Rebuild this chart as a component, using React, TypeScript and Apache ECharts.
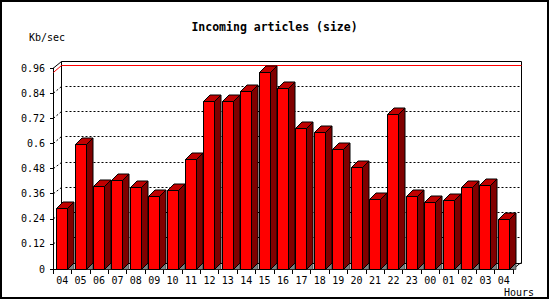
import React, { useEffect, useRef } from "react";
import * as echarts from "echarts";

const hours = ["04","05","06","07","08","09","10","11","12","13","14","15","16","17","18","19","20","21","22","23","00","01","02","03","04"];
const sizes = [0.29,0.595,0.397,0.424,0.391,0.348,0.377,0.523,0.801,0.801,0.849,0.939,0.863,0.672,0.653,0.572,0.486,0.334,0.741,0.348,0.320,0.329,0.391,0.401,0.238];
const yTicks = [0,0.12,0.24,0.36,0.48,0.6,0.72,0.84,0.96];
const titleText = "Incoming articles (size)";
const yUnit = "Kb/sec";
const xUnit = "Hours";

const MONO = "'DejaVu Sans Mono', 'Liberation Mono', monospace";

export default function App() {
  const ref = useRef<HTMLDivElement>(null);
  useEffect(() => {
    if (!ref.current) return;
    const chart = echarts.init(ref.current, null, { renderer: "svg" });
    const maxVal = Math.max(...sizes);
    const dx = 7.5, dy = 7;
    const snap = (v: number) => Math.round(v) + 0.5;
    chart.setOption({
      animation: false,
      backgroundColor: "#fff",
      grid: { left: 53, top: 68, width: 460, height: 201, containLabel: false },
      xAxis: {
        type: "category",
        data: hours,
        boundaryGap: true,
        axisLine: { show: true, lineStyle: { color: "#000", width: 1 } },
        axisTick: { show: true, alignWithLabel: false, length: 5, lineStyle: { color: "#000" } },
        axisLabel: { interval: 0, color: "#000", fontFamily: MONO, fontSize: 10, margin: 6 },
        splitLine: { show: false },
      },
      yAxis: {
        type: "value",
        min: 0,
        max: 0.96,
        interval: 0.12,
        axisLine: { show: true, lineStyle: { color: "#000", width: 1 } },
        axisTick: { show: true, length: 3, lineStyle: { color: "#000" } },
        axisLabel: {
          color: "#000", fontFamily: MONO, fontSize: 10, margin: 8,
          formatter: (v: number) => String(Math.round(v * 100) / 100),
        },
        splitLine: { show: false },
      },
      series: [
        {
          type: "custom",
          z: 1,
          silent: true,
          data: [[0, 0]],
          encode: { x: 0, y: 1 },
          renderItem: (params: any, api: any) => {
            const cs = params.coordSys;
            const L = cs.x, T = cs.y, R = cs.x + cs.width, B = cs.y + cs.height;
            const bx = snap(L + dx), by = snap(T - dy);
            const children: any[] = [
              { type: "rect", shape: { x: bx, y: by, width: Math.round(cs.width), height: Math.round(B - dy + 1) - by + 0.5 }, style: { fill: "#fff", stroke: "#000", lineWidth: 1 } },
              { type: "line", shape: { x1: L + 0.5, y1: T, x2: bx, y2: by }, style: { stroke: "#000", lineWidth: 1 } },
              { type: "line", shape: { x1: R, y1: B, x2: R + dx, y2: B - dy + 1 }, style: { stroke: "#000", lineWidth: 1 } },
            ];
            yTicks.forEach((t) => {
              if (t === 0 || t === yTicks[yTicks.length - 1]) return;
              const y = api.coord([0, t])[1];
              const yb = snap(y - dy);
              children.push({ type: "line", shape: { x1: bx + 4, y1: yb, x2: bx + Math.round(cs.width), y2: yb }, style: { stroke: "#000", lineWidth: 1, lineDash: [2, 2] } });
              children.push({ type: "line", shape: { x1: L + 0.5, y1: y, x2: bx, y2: yb }, style: { stroke: "#000", lineWidth: 1, lineDash: [2, 2] } });
            });
            const ym = api.coord([0, maxVal])[1];
            const ymb = snap(ym - dy);
            children.push({ type: "line", shape: { x1: bx, y1: ymb, x2: bx + Math.round(cs.width), y2: ymb }, style: { stroke: "#ff0000", lineWidth: 1 } });
            children.push({ type: "line", shape: { x1: L + 0.5, y1: ym, x2: bx, y2: ymb }, style: { stroke: "#ff0000", lineWidth: 1 } });
            return { type: "group", children };
          },
        },
        {
          type: "custom",
          z: 3,
          silent: true,
          data: sizes.map((v, i) => [i, v]),
          encode: { x: 0, y: 1 },
          renderItem: (params: any, api: any) => {
            const i = api.value(0), v = api.value(1);
            const top = api.coord([i, v]);
            const base = api.coord([i, 0]);
            const bw = api.size([1, 0])[0];
            const w = Math.round(bw * 0.6);
            const d = 6.5;
            const x0 = snap(top[0] - w / 2 - 0.5), x1 = x0 + w;
            const yt = snap(top[1]), yb = snap(base[1]);
            return {
              type: "group",
              children: [
                { type: "polygon", shape: { points: [[x1, yb], [x1 + d, yb - d], [x1 + d, yb]] }, style: { fill: "#808080", stroke: "#000", lineWidth: 0.5 } },
                { type: "rect", shape: { x: x0, y: yt, width: w, height: yb - yt }, style: { fill: "#ff0000", stroke: "#000", lineWidth: 1 } },
                { type: "polygon", shape: { points: [[x0, yt], [x0 + d, yt - d], [x1 + d, yt - d], [x1, yt]] }, style: { fill: "#c00000", stroke: "#000", lineWidth: 1 } },
                { type: "polygon", shape: { points: [[x1, yt], [x1 + d, yt - d], [x1 + d, yb - d], [x1, yb]] }, style: { fill: "#800000", stroke: "#000", lineWidth: 1 } },
              ],
            };
          },
        },
      ],
      graphic: [
        { type: "rect", shape: { x: 1, y: 1, width: 547, height: 297 }, style: { fill: "none", stroke: "#000", lineWidth: 2 }, z: 10 },
        { type: "text", x: 274.5, y: 26.5, style: { text: titleText, fill: "#000", font: `bold 11.5px ${MONO}`, textAlign: "center", textVerticalAlign: "middle" }, z: 10 },
        { type: "text", x: 29, y: 37.5, style: { text: yUnit, fill: "#000", font: `10px ${MONO}`, textAlign: "left", textVerticalAlign: "middle" }, z: 10 },
        { type: "text", x: 504, y: 292, style: { text: xUnit, fill: "#000", font: `10px ${MONO}`, textAlign: "left", textVerticalAlign: "middle" }, z: 10 },
      ],
    });
    return () => chart.dispose();
  }, []);
  return <div ref={ref} style={{ position: "fixed", left: 0, top: 0, width: 550, height: 300 }} />;
}
